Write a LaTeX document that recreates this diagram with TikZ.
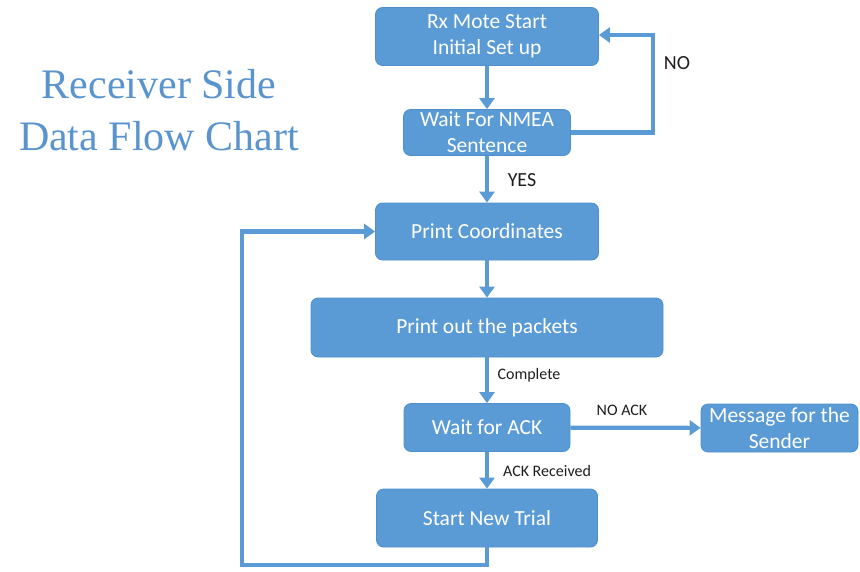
\documentclass[tikz,border=0pt]{standalone}
\usepackage{fontspec}
\setmainfont{Carlito}
\newfontfamily\titlefont{Liberation Serif}
\usetikzlibrary{arrows.meta}
\definecolor{boxblue}{HTML}{5B9BD5}
\definecolor{boxedge}{HTML}{4F8FCC}
\definecolor{titleblue}{HTML}{5A94CF}
\definecolor{labelgray}{HTML}{1E1E1E}
\begin{document}
\begin{tikzpicture}[x=1pt,y=-1pt,
  flowbox/.style={draw=boxedge,line width=0.8pt,fill=boxblue,rounded corners=7pt,
    text=white,align=center,inner sep=0pt,font=\fontsize{21.5}{26}\selectfont},
  flowarrow/.style={draw=boxblue,line width=4.2pt,-{Triangle[width=15pt,length=11pt]}},
  flowline/.style={draw=boxblue,line width=4.2pt},
  smalllabel/.style={text=labelgray,inner sep=0pt,font=\fontsize{16}{19}\selectfont},
  biglabel/.style={text=labelgray,inner sep=0pt,font=\fontsize{20}{24}\selectfont}]
\useasboundingbox (0,0) rectangle (860,571);
\fill[white] (0,0) rectangle (860,571);

\node[text=titleblue,align=center,inner sep=0pt,font=\titlefont\fontsize{42}{52}\selectfont] (title) at (159,110) {Receiver Side\\Data Flow Chart};

\node[flowbox,minimum width=223pt,minimum height=58pt] (b1) at (487,36.5) {Rx Mote Start\\Initial Set up};
\node[flowbox,minimum width=167pt,minimum height=46pt] (b2) at (487,132.5) {Wait For NMEA\\Sentence};
\node[flowbox,minimum width=223pt,minimum height=57pt] (b3) at (487,231.5) {Print Coordinates};
\node[flowbox,minimum width=352pt,minimum height=59pt] (b4) at (487,327.5) {Print out the packets};
\node[flowbox,minimum width=166pt,minimum height=48pt] (b5) at (487,427.5) {Wait for ACK};
\node[flowbox,minimum width=157pt,minimum height=48pt] (b6) at (779.5,428) {Message for the\\Sender};
\node[flowbox,minimum width=221pt,minimum height=58pt] (b7) at (487,518) {Start New Trial};

\coordinate (n1) at (653,132.5);
\coordinate (n2) at (653,35);
\coordinate (l1) at (487,565);
\coordinate (l2) at (242,565);
\coordinate (l3) at (242,231.5);

\draw[flowarrow] (b1) -- (b2);
\draw[flowarrow] (b2) -- (b3);
\draw[flowarrow] (b3) -- (b4);
\draw[flowarrow] (b4) -- (b5);
\draw[flowarrow] (b5) -- (b7);
\draw[flowarrow] (b5) -- (b6);
\draw[flowarrow,rounded corners=0pt] (b2.east) -- (n1) -- (n2) -- (b1.east |- n2);
\draw[flowarrow] (b7.south) -- (l1) -- (l2) -- (l3) -- (b3.west);

\node[biglabel] (lno) at (677,63) {NO};
\node[biglabel] (lyes) at (522,180) {YES};
\node[smalllabel] (lcomp) at (529,375) {Complete};
\node[smalllabel] (lnoack) at (622,410) {NO ACK};
\node[smalllabel] (lackr) at (547,471) {ACK Received};
\end{tikzpicture}
\end{document}
